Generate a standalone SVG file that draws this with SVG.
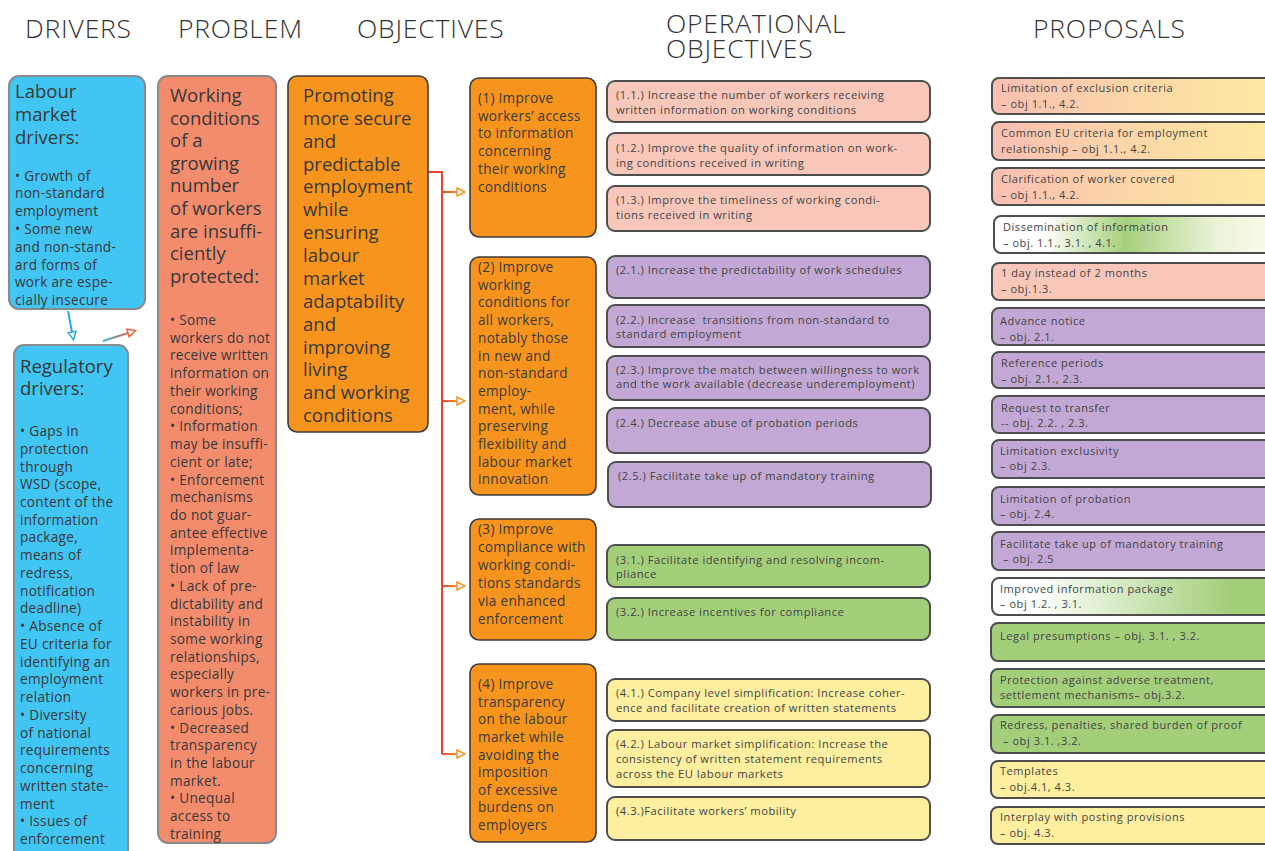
<svg xmlns="http://www.w3.org/2000/svg" width="1265" height="851" viewBox="0 0 1265 851">
<style>
text{font-family:"Open Sans","Liberation Sans",sans-serif;fill:#383838}
.hdr{font-size:26.5px;font-weight:300;fill:#333;letter-spacing:0.8px}
.t19{font-size:18.5px}
.t14{font-size:13.6px;letter-spacing:0.3px}
.t13{font-size:13.6px;fill:#3a3a3a;letter-spacing:0.3px}
.to{font-size:11.2px;fill:#444;letter-spacing:0.5px}
.tp{font-size:11px;fill:#444;letter-spacing:0.55px}
.blue{fill:#41c5f3;stroke:#8a8a8a;stroke-width:2}
.prob{fill:#f38c6c;stroke:#8a8a8a;stroke-width:2}
.org{fill:#f7941e;stroke:#3d3d3d;stroke-width:1.6}
.box{stroke:#4e4e4e;stroke-width:2}
.pink{fill:#f9c6ba}
.purp{fill:#c2a8d4}
.grn{fill:#a3cf7a}
.yel{fill:#fdef9f}
</style>
<defs>
<marker id="ao" viewBox="0 0 10 10" refX="1" refY="5" markerWidth="10" markerHeight="10" markerUnits="userSpaceOnUse" orient="auto">
<path d="M1,1 L9,5 L1,9 Z" fill="#fff" stroke="#f7941d" stroke-width="1.5"/>
</marker>
<marker id="ab" viewBox="0 0 10 10" refX="1" refY="5" markerWidth="10" markerHeight="10" markerUnits="userSpaceOnUse" orient="auto">
<path d="M1,1 L9,5 L1,9 Z" fill="#fff" stroke="#2ba8e0" stroke-width="1.5"/>
</marker>
<marker id="ar" viewBox="0 0 10 10" refX="1" refY="5" markerWidth="10" markerHeight="10" markerUnits="userSpaceOnUse" orient="auto">
<path d="M1,1 L9,5 L1,9 Z" fill="#fff" stroke="#ee5f3c" stroke-width="1.5"/>
</marker>
<linearGradient id="gbr" gradientUnits="userSpaceOnUse" x1="442" y1="0" x2="458" y2="0">
<stop offset="0" stop-color="#e8472c"/><stop offset="1" stop-color="#f7941d"/>
</linearGradient>
<linearGradient id="gbo" gradientUnits="userSpaceOnUse" x1="103" y1="0" x2="128" y2="0">
<stop offset="0" stop-color="#36b6ea"/><stop offset="1" stop-color="#e0664a"/>
</linearGradient>
<linearGradient id="gpy" x1="0" y1="0" x2="1" y2="0">
<stop offset="0" stop-color="#f9bfb2"/><stop offset="0.55" stop-color="#fcd9a7"/><stop offset="1" stop-color="#fde9a2"/>
</linearGradient>
<linearGradient id="gwg" x1="0" y1="0" x2="1" y2="0">
<stop offset="0" stop-color="#ffffff"/><stop offset="0.18" stop-color="#ffffff"/><stop offset="0.47" stop-color="#a6d07c"/><stop offset="0.8" stop-color="#eaf3d8"/><stop offset="1" stop-color="#fbfbea"/>
</linearGradient>
<linearGradient id="gwg2" x1="0" y1="0" x2="1" y2="0">
<stop offset="0" stop-color="#ffffff"/><stop offset="0.15" stop-color="#ffffff"/><stop offset="0.85" stop-color="#a3cf7a"/><stop offset="1" stop-color="#a3cf7a"/>
</linearGradient>
</defs>

<g id="headers">
<text class="hdr" x="25" y="38">DRIVERS</text>
<text class="hdr" x="178" y="38">PROBLEM</text>
<text class="hdr" x="357" y="38">OBJECTIVES</text>
<text class="hdr" x="666" y="33">OPERATIONAL</text>
<text class="hdr" x="666" y="58">OBJECTIVES</text>
<text class="hdr" x="1033" y="38">PROPOSALS</text>
</g>

<g id="connectors" fill="none">
<path d="M428,172 H442 V754" stroke="#e8472c" stroke-width="2"/>
<path d="M442,192 H457" stroke="url(#gbr)" stroke-width="2" marker-end="url(#ao)"/>
<path d="M442,401 H457" stroke="url(#gbr)" stroke-width="2" marker-end="url(#ao)"/>
<path d="M442,586 H457" stroke="url(#gbr)" stroke-width="2" marker-end="url(#ao)"/>
<path d="M442,754 H457" stroke="url(#gbr)" stroke-width="2" marker-end="url(#ao)"/>
<path d="M68,311 L72,332" stroke="#2ba8e0" stroke-width="2" marker-end="url(#ab)"/>
<path d="M103,341 L128,333" stroke="url(#gbo)" stroke-width="2" marker-end="url(#ar)"/>
</g>

<g id="labour-drivers">
<rect class="blue" x="9" y="76" width="136" height="233" rx="10"/>
<text class="t19"><tspan x="15" y="98">Labour</tspan><tspan x="15" y="121">market</tspan><tspan x="15" y="144">drivers:</tspan></text>
<text class="t14"><tspan x="15" y="180.5">• Growth of</tspan><tspan x="15" y="198.3">non-standard</tspan><tspan x="15" y="216.1">employment</tspan><tspan x="15" y="233.9">• Some new</tspan><tspan x="15" y="251.7">and non-stand-</tspan><tspan x="15" y="269.5">ard forms of</tspan><tspan x="15" y="287.3">work are espe-</tspan><tspan x="15" y="305.1">cially insecure</tspan></text>
</g>

<g id="regulatory-drivers">
<rect class="blue" x="14" y="345" width="114" height="516" rx="10"/>
<text class="t19"><tspan x="20" y="373">Regulatory</tspan><tspan x="20" y="395">drivers:</tspan></text>
<text class="t14"><tspan x="20" y="436">• Gaps in</tspan><tspan x="20" y="453.7">protection</tspan><tspan x="20" y="471.5">through</tspan><tspan x="20" y="489.2">WSD (scope,</tspan><tspan x="20" y="507">content of the</tspan><tspan x="20" y="524.7">information</tspan><tspan x="20" y="542.4">package,</tspan><tspan x="20" y="560.2">means of</tspan><tspan x="20" y="577.9">redress,</tspan><tspan x="20" y="595.7">notification</tspan><tspan x="20" y="613.4">deadline)</tspan><tspan x="20" y="631.1">• Absence of</tspan><tspan x="20" y="648.9">EU criteria for</tspan><tspan x="20" y="666.6">identifying an</tspan><tspan x="20" y="684.4">employment</tspan><tspan x="20" y="702.1">relation</tspan><tspan x="20" y="719.8">• Diversity</tspan><tspan x="20" y="737.6">of national</tspan><tspan x="20" y="755.3">requirements</tspan><tspan x="20" y="773.1">concerning</tspan><tspan x="20" y="790.8">written state-</tspan><tspan x="20" y="808.5">ment</tspan><tspan x="20" y="826.3">• Issues of</tspan><tspan x="20" y="844">enforcement</tspan></text>
</g>

<g id="problem">
<rect class="prob" x="158" y="76" width="118" height="767" rx="10"/>
<text class="t19"><tspan x="170" y="102">Working</tspan><tspan x="170" y="124.6">conditions</tspan><tspan x="170" y="147.2">of a</tspan><tspan x="170" y="169.8">growing</tspan><tspan x="170" y="192.4">number</tspan><tspan x="170" y="215">of workers</tspan><tspan x="170" y="237.6">are insuffi-</tspan><tspan x="170" y="260.2">ciently</tspan><tspan x="170" y="282.8">protected:</tspan></text>
<text class="t14"><tspan x="170" y="325">• Some</tspan><tspan x="170" y="342.7">workers do not</tspan><tspan x="170" y="360.4">receive written</tspan><tspan x="170" y="378.2">information on</tspan><tspan x="170" y="395.9">their working</tspan><tspan x="170" y="413.6">conditions;</tspan><tspan x="170" y="431.3">• Information</tspan><tspan x="170" y="449">may be insuffi-</tspan><tspan x="170" y="466.8">cient or late;</tspan><tspan x="170" y="484.5">• Enforcement</tspan><tspan x="170" y="502.2">mechanisms</tspan><tspan x="170" y="519.9">do not guar-</tspan><tspan x="170" y="537.6">antee effective</tspan><tspan x="170" y="555.4">implementa-</tspan><tspan x="170" y="573.1">tion of law</tspan><tspan x="170" y="590.8">• Lack of pre-</tspan><tspan x="170" y="608.5">dictability and</tspan><tspan x="170" y="626.2">instability in</tspan><tspan x="170" y="644">some working</tspan><tspan x="170" y="661.7">relationships,</tspan><tspan x="170" y="679.4">especially</tspan><tspan x="170" y="697.1">workers in pre-</tspan><tspan x="170" y="714.8">carious jobs.</tspan><tspan x="170" y="732.6">• Decreased</tspan><tspan x="170" y="750.3">transparency</tspan><tspan x="170" y="768">in the labour</tspan><tspan x="170" y="785.7">market.</tspan><tspan x="170" y="803.4">• Unequal</tspan><tspan x="170" y="821.2">access to</tspan><tspan x="170" y="838.9">training</tspan></text>
</g>

<g id="objective-main">
<rect class="org" x="288" y="76" width="140" height="356" rx="9"/>
<text class="t19"><tspan x="303" y="102">Promoting</tspan><tspan x="303" y="124.9">more secure</tspan><tspan x="303" y="147.7">and</tspan><tspan x="303" y="170.6">predictable</tspan><tspan x="303" y="193.4">employment</tspan><tspan x="303" y="216.3">while</tspan><tspan x="303" y="239.2">ensuring</tspan><tspan x="303" y="262">labour</tspan><tspan x="303" y="284.9">market</tspan><tspan x="303" y="307.7">adaptability</tspan><tspan x="303" y="330.6">and</tspan><tspan x="303" y="353.5">improving</tspan><tspan x="303" y="376.3">living</tspan><tspan x="303" y="399.2">and working</tspan><tspan x="303" y="422">conditions</tspan></text>
</g>

<g id="objective-1">
<rect class="org" x="470" y="78" width="126" height="159" rx="9"/>
<text class="t13"><tspan x="478" y="103">(1) Improve</tspan><tspan x="478" y="120.7">workers’ access</tspan><tspan x="478" y="138.4">to information</tspan><tspan x="478" y="156.1">concerning</tspan><tspan x="478" y="173.8">their working</tspan><tspan x="478" y="191.5">conditions</tspan></text>
</g>
<g id="objective-2">
<rect class="org" x="470" y="257" width="126" height="238" rx="9"/>
<text class="t13"><tspan x="478" y="272">(2) Improve</tspan><tspan x="478" y="289.7">working</tspan><tspan x="478" y="307.4">conditions for</tspan><tspan x="478" y="325.1">all workers,</tspan><tspan x="478" y="342.8">notably those</tspan><tspan x="478" y="360.5">in new and</tspan><tspan x="478" y="378.2">non-standard</tspan><tspan x="478" y="395.9">employ-</tspan><tspan x="478" y="413.6">ment, while</tspan><tspan x="478" y="431.3">preserving</tspan><tspan x="478" y="449">flexibility and</tspan><tspan x="478" y="466.7">labour market</tspan><tspan x="478" y="484.4">innovation</tspan></text>
</g>
<g id="objective-3">
<rect class="org" x="470" y="519" width="126" height="121" rx="9"/>
<text class="t13"><tspan x="478" y="534">(3) Improve</tspan><tspan x="478" y="552">compliance with</tspan><tspan x="478" y="570">working condi-</tspan><tspan x="478" y="588">tions standards</tspan><tspan x="478" y="606">via enhanced</tspan><tspan x="478" y="624">enforcement</tspan></text>
</g>
<g id="objective-4">
<rect class="org" x="470" y="664" width="126" height="178" rx="9"/>
<text class="t13"><tspan x="478" y="689">(4) Improve</tspan><tspan x="478" y="706.6">transparency</tspan><tspan x="478" y="724.3">on the labour</tspan><tspan x="478" y="741.9">market while</tspan><tspan x="478" y="759.5">avoiding the</tspan><tspan x="478" y="777.1">imposition</tspan><tspan x="478" y="794.8">of excessive</tspan><tspan x="478" y="812.4">burdens on</tspan><tspan x="478" y="830">employers</tspan></text>
</g>

<g id="op-1-1"><rect class="box pink" x="607" y="81" width="323" height="41" rx="8"/><text class="to"><tspan x="616" y="99">(1.1.) Increase the number of workers receiving</tspan><tspan x="616" y="114">written information on working conditions</tspan></text></g>
<g id="op-1-2"><rect class="box pink" x="607" y="133" width="323" height="42" rx="8"/><text class="to"><tspan x="616" y="152">(1.2.) Improve the quality of information on work-</tspan><tspan x="616" y="167">ing conditions received in writing</tspan></text></g>
<g id="op-1-3"><rect class="box pink" x="607" y="186" width="323" height="45" rx="8"/><text class="to"><tspan x="616" y="204">(1.3.) Improve the timeliness of working condi-</tspan><tspan x="616" y="219">tions received in writing</tspan></text></g>
<g id="op-2-1"><rect class="box purp" x="607" y="256" width="323" height="42" rx="8"/><text class="to" x="616" y="274">(2.1.) Increase the predictability of work schedules</text></g>
<g id="op-2-2"><rect class="box purp" x="607" y="305" width="323" height="42" rx="8"/><text class="to" xml:space="preserve"><tspan x="616" y="324">(2.2.) Increase  transitions from non-standard to</tspan><tspan x="616" y="338">standard employment</tspan></text></g>
<g id="op-2-3"><rect class="box purp" x="607" y="356" width="323" height="44" rx="8"/><text class="to"><tspan x="616" y="374">(2.3.) Improve the match between willingness to work</tspan><tspan x="616" y="388">and the work available (decrease underemployment)</tspan></text></g>
<g id="op-2-4"><rect class="box purp" x="607" y="408" width="323" height="45" rx="8"/><text class="to" x="616" y="427">(2.4.) Decrease abuse of probation periods</text></g>
<g id="op-2-5"><rect class="box purp" x="608" y="462" width="323" height="45" rx="8"/><text class="to" x="618" y="480">(2.5.) Facilitate take up of mandatory training</text></g>
<g id="op-3-1"><rect class="box grn" x="607" y="545" width="323" height="42" rx="8"/><text class="to"><tspan x="616" y="564">(3.1.) Facilitate identifying and resolving incom-</tspan><tspan x="616" y="578">pliance</tspan></text></g>
<g id="op-3-2"><rect class="box grn" x="607" y="598" width="323" height="42" rx="8"/><text class="to" x="616" y="616">(3.2.) Increase incentives for compliance</text></g>
<g id="op-4-1"><rect class="box yel" x="607" y="679" width="323" height="42" rx="8"/><text class="to"><tspan x="616" y="697">(4.1.) Company level simplification: Increase coher-</tspan><tspan x="616" y="712">ence and facilitate creation of written statements</tspan></text></g>
<g id="op-4-2"><rect class="box yel" x="607" y="730" width="323" height="57" rx="8"/><text class="to"><tspan x="616" y="748">(4.2.) Labour market simplification: Increase the</tspan><tspan x="616" y="763">consistency of written statement requirements</tspan><tspan x="616" y="778">across the EU labour markets</tspan></text></g>
<g id="op-4-3"><rect class="box yel" x="607" y="797" width="323" height="43" rx="8"/><text class="to" x="616" y="815">(4.3.)Facilitate workers’ mobility</text></g>

<g id="pr-1"><rect class="box" fill="url(#gpy)" x="992" y="78" width="280" height="36" rx="7"/><text class="tp"><tspan x="1001" y="92">Limitation of exclusion criteria</tspan><tspan x="1001" y="108">– obj 1.1., 4.2.</tspan></text></g>
<g id="pr-2"><rect class="box" fill="url(#gpy)" x="992" y="122" width="280" height="38" rx="7"/><text class="tp"><tspan x="1001" y="137">Common EU criteria for employment</tspan><tspan x="1001" y="153">relationship – obj 1.1., 4.2.</tspan></text></g>
<g id="pr-3"><rect class="box" fill="url(#gpy)" x="992" y="168" width="280" height="37" rx="7"/><text class="tp"><tspan x="1001" y="183">Clarification of worker covered</tspan><tspan x="1001" y="199">– obj 1.1., 4.2.</tspan></text></g>
<g id="pr-4"><rect class="box" fill="url(#gwg)" x="994" y="216" width="278" height="37" rx="7"/><text class="tp"><tspan x="1003" y="231">Dissemination of information</tspan><tspan x="1003" y="247">– obj. 1.1., 3.1. , 4.1.</tspan></text></g>
<g id="pr-5"><rect class="box pink" x="992" y="263" width="280" height="37" rx="7"/><text class="tp"><tspan x="1001" y="277">1 day instead of 2 months</tspan><tspan x="1001" y="293">– obj.1.3.</tspan></text></g>
<g id="pr-6"><rect class="box purp" x="992" y="308" width="280" height="37" rx="7"/><text class="tp"><tspan x="1000" y="325">Advance notice</tspan><tspan x="1000" y="341">– obj. 2.1.</tspan></text></g>
<g id="pr-7"><rect class="box purp" x="992" y="352" width="280" height="36" rx="7"/><text class="tp"><tspan x="1001" y="367">Reference periods</tspan><tspan x="1001" y="383">– obj. 2.1., 2.3.</tspan></text></g>
<g id="pr-8"><rect class="box purp" x="992" y="396" width="280" height="37" rx="7"/><text class="tp"><tspan x="1001" y="412">Request to transfer</tspan><tspan x="1001" y="427">-- obj. 2.2. , 2.3.</tspan></text></g>
<g id="pr-9"><rect class="box purp" x="992" y="440" width="280" height="38" rx="7"/><text class="tp"><tspan x="1000" y="455">Limitation exclusivity</tspan><tspan x="1000" y="470">– obj 2.3.</tspan></text></g>
<g id="pr-10"><rect class="box purp" x="992" y="487" width="280" height="38" rx="7"/><text class="tp"><tspan x="1000" y="503">Limitation of probation</tspan><tspan x="1000" y="518">– obj. 2.4.</tspan></text></g>
<g id="pr-11"><rect class="box purp" x="992" y="532" width="280" height="38" rx="7"/><text class="tp"><tspan x="1000" y="548">Facilitate take up of mandatory training</tspan><tspan x="1003" y="563">– obj. 2.5</tspan></text></g>
<g id="pr-12"><rect class="box" fill="url(#gwg2)" x="992" y="578" width="280" height="37" rx="7"/><text class="tp"><tspan x="1000" y="593">Improved information package</tspan><tspan x="1000" y="608">– obj 1.2. , 3.1.</tspan></text></g>
<g id="pr-13"><rect class="box grn" x="991" y="623" width="281" height="38" rx="7"/><text class="tp" x="1000" y="640">Legal presumptions – obj. 3.1. , 3.2.</text></g>
<g id="pr-14"><rect class="box grn" x="991" y="669" width="281" height="38" rx="7"/><text class="tp"><tspan x="1000" y="684">Protection against adverse treatment,</tspan><tspan x="1000" y="699">settlement mechanisms– obj.3.2.</tspan></text></g>
<g id="pr-15"><rect class="box grn" x="991" y="715" width="281" height="38" rx="7"/><text class="tp"><tspan x="1000" y="729">Redress, penalties, shared burden of proof</tspan><tspan x="1003" y="745">– obj 3.1. ,3.2.</tspan></text></g>
<g id="pr-16"><rect class="box yel" x="991" y="761" width="281" height="37" rx="7"/><text class="tp"><tspan x="1000" y="775">Templates</tspan><tspan x="1000" y="791">– obj.4.1, 4.3.</tspan></text></g>
<g id="pr-17"><rect class="box yel" x="991" y="807" width="281" height="37" rx="7"/><text class="tp"><tspan x="1000" y="821">Interplay with posting provisions</tspan><tspan x="1000" y="837">– obj. 4.3.</tspan></text></g>
</svg>
